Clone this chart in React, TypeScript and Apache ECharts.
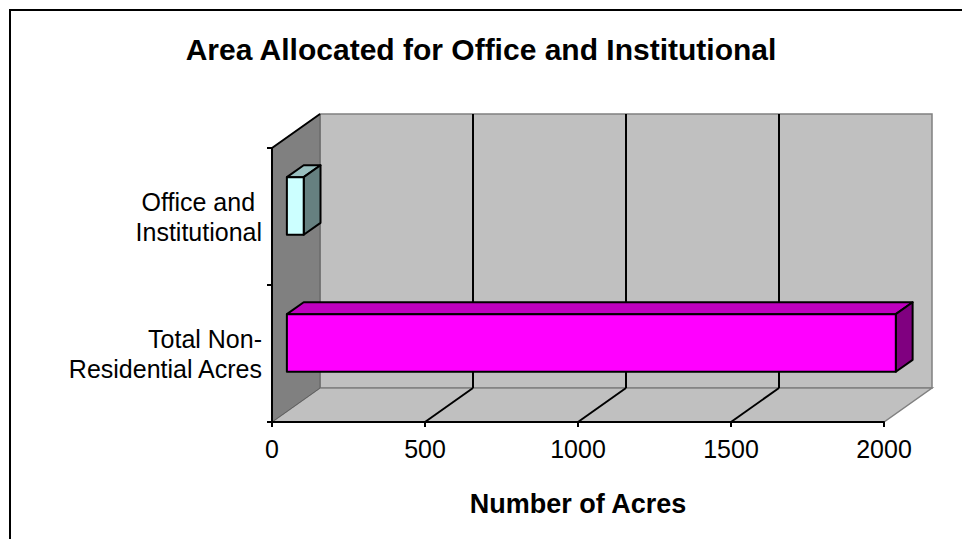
import React, { useEffect, useRef } from "react";
import * as echarts from "echarts";

// ---- data ----
const categories = ["Total Non-\nResidential Acres", "Office and \nInstitutional"];
const acres = [1990, 55];
const axisMin = 0;
const axisMax = 2000;
const axisStep = 500;
const gridValues = [500, 1000, 1500];
const titleText = "Area Allocated for Office and Institutional";
const axisTitle = "Number of Acres";

// ---- styling / layout ----
const FONT = "'Liberation Sans', Arial, Helvetica, sans-serif";
const DX = 48; // depth offset of the 3D box
const DY = -34;
const F0 = 0.31; // bar depth start (fraction)
const F1 = 0.66; // bar depth end
const BAR_HALF = 0.21; // half bar thickness as fraction of band
const BAR_COLORS = [
  { front: "#FF00FF", top: "#BF00BF", side: "#800080" },
  { front: "#CCFFFF", top: "#99BFBF", side: "#668080" },
];

export default function App() {
  const ref = useRef<HTMLDivElement>(null);

  useEffect(() => {
    if (!ref.current) return;
    const chart = echarts.init(ref.current, null, { renderer: "svg" });

    const option: any = {
      animation: false,
      backgroundColor: "#FFFFFF",
      title: {
        text: titleText,
        left: "center",
        top: 29,
        textStyle: { fontFamily: FONT, fontSize: 30, fontWeight: "bold", color: "#000" },
      },
      graphic: [
        {
          type: "rect",
          shape: { x: 10, y: 10, width: 1000, height: 600 },
          style: { fill: "none", stroke: "#000", lineWidth: 2 },
          silent: true,
          z: 100,
        },
      ],
      grid: { left: 272, top: 148, width: 612, height: 274, containLabel: false },
      xAxis: {
        type: "value",
        min: axisMin,
        max: axisMax,
        interval: axisStep,
        name: axisTitle,
        nameLocation: "middle",
        nameGap: 68,
        nameTextStyle: { fontFamily: FONT, fontSize: 27, fontWeight: "bold", color: "#000" },
        axisLine: { show: true, lineStyle: { color: "#000", width: 2 } },
        axisTick: { show: true, length: 5, lineStyle: { color: "#000", width: 2 } },
        axisLabel: {
          fontFamily: FONT,
          fontSize: 25,
          color: "#000",
          margin: 14,
          formatter: (v: number) => String(v),
        },
        splitLine: { show: false },
        z: 10,
      },
      yAxis: {
        type: "category",
        data: categories,
        axisLine: { show: true, lineStyle: { color: "#000", width: 2 } },
        axisTick: { show: true, length: 5, lineStyle: { color: "#000", width: 2 } },
        axisLabel: {
          fontFamily: FONT,
          fontSize: 25,
          lineHeight: 30,
          color: "#000",
          margin: 10,
          align: "right",
        },
        splitLine: { show: false },
        z: 10,
      },
      series: [
        {
          type: "custom",
          name: "walls",
          clip: false,
          silent: true,
          z: 1,
          data: [[axisMin, 0]],
          renderItem: (params: any, api: any) => {
            const cs = params.coordSys;
            const gx = cs.x, gy = cs.y, gw = cs.width, gh = cs.height;
            const wallStroke = { stroke: "#808080", lineWidth: 1.5 };
            return {
              type: "group",
              children: [
                {
                  type: "polygon",
                  shape: { points: [[gx + DX, gy + DY], [gx + gw + DX, gy + DY], [gx + gw + DX, gy + gh + DY], [gx + DX, gy + gh + DY]] },
                  style: { fill: "#C0C0C0", ...wallStroke },
                },
                {
                  type: "polygon",
                  shape: { points: [[gx, gy + gh], [gx + DX, gy + gh + DY], [gx + gw + DX, gy + gh + DY], [gx + gw, gy + gh]] },
                  style: { fill: "#C0C0C0", ...wallStroke },
                },
                {
                  type: "polygon",
                  shape: { points: [[gx, gy], [gx + DX, gy + DY], [gx + DX, gy + gh + DY], [gx, gy + gh]] },
                  style: { fill: "#808080", stroke: "#606060", lineWidth: 1 },
                },
                {
                  type: "line",
                  shape: { x1: gx, y1: gy, x2: gx + DX, y2: gy + DY },
                  style: { stroke: "#000", lineWidth: 2 },
                },
              ],
            };
          },
        },
        {
          type: "custom",
          name: "grid",
          clip: false,
          silent: true,
          z: 2,
          data: gridValues.map((v) => [v, 0]),
          renderItem: (params: any, api: any) => {
            const cs = params.coordSys;
            const gy = cs.y, gh = cs.height;
            const x = api.coord([api.value(0), 0])[0];
            return {
              type: "group",
              children: [
                {
                  type: "line",
                  shape: { x1: x + DX, y1: gy + DY, x2: x + DX, y2: gy + gh + DY },
                  style: { stroke: "#000", lineWidth: 2 },
                },
                {
                  type: "line",
                  shape: { x1: x, y1: gy + gh, x2: x + DX, y2: gy + gh + DY },
                  style: { stroke: "#000", lineWidth: 2 },
                },
              ],
            };
          },
        },
        {
          type: "custom",
          name: "Acres",
          clip: false,
          z: 3,
          data: acres.map((v, i) => [v, i]),
          renderItem: (params: any, api: any) => {
            const v = api.value(0);
            const c = api.value(1);
            const p0 = api.coord([0, c]);
            const p1 = api.coord([v, c]);
            const band = api.size([0, 1])[1];
            const half = band * BAR_HALF;
            const ox = DX * F0, oy = DY * F0;
            const bx = DX * (F1 - F0), by = DY * (F1 - F0);
            const x0 = p0[0] + ox, x1 = p1[0] + ox;
            const y0 = p0[1] - half + oy, y1 = p0[1] + half + oy;
            const col = BAR_COLORS[c];
            const edge = { stroke: "#000", lineWidth: 2, lineJoin: "round" };
            return {
              type: "group",
              children: [
                {
                  type: "polygon",
                  shape: { points: [[x0, y0], [x0 + bx, y0 + by], [x1 + bx, y0 + by], [x1, y0]] },
                  style: { fill: col.top, ...edge },
                },
                {
                  type: "polygon",
                  shape: { points: [[x1, y0], [x1 + bx, y0 + by], [x1 + bx, y1 + by], [x1, y1]] },
                  style: { fill: col.side, ...edge },
                },
                {
                  type: "rect",
                  shape: { x: x0, y: y0, width: x1 - x0, height: y1 - y0 },
                  style: { fill: col.front, ...edge },
                },
              ],
            };
          },
        },
      ],
    };

    chart.setOption(option);
    return () => chart.dispose();
  }, []);

  return (
    <div
      ref={ref}
      style={{ position: "absolute", left: 0, top: 0, width: 962, height: 539 }}
    />
  );
}
